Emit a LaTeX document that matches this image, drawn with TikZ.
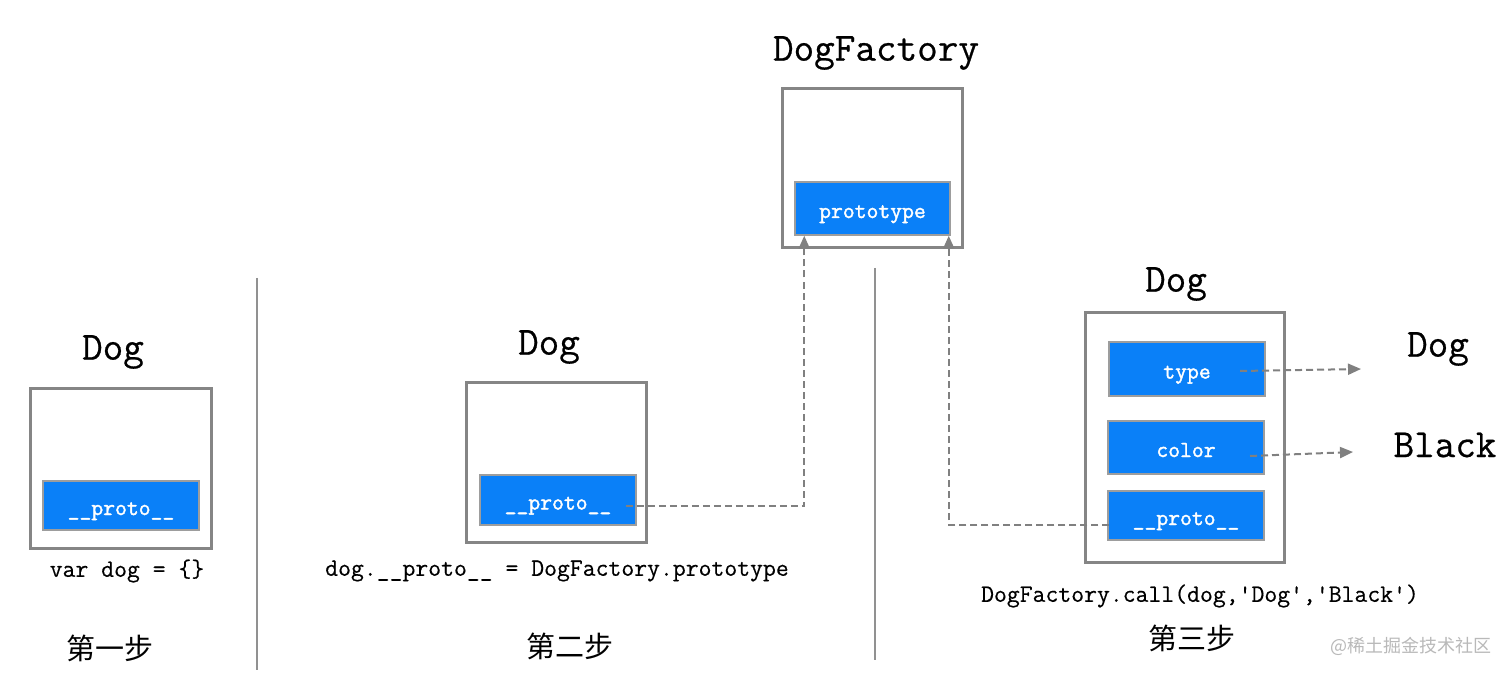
\documentclass[tikz,border=0pt]{standalone}
\usepackage{fontspec}
\usetikzlibrary{arrows.meta}
\newfontfamily\monoT[FakeBold=0.6]{Latin Modern Mono}
\newfontfamily\monoC[FakeBold=0.4]{Latin Modern Mono}
\newfontfamily\monoB[FakeBold=1.6]{Latin Modern Mono}
\newfontfamily\cjk{Noto Sans CJK SC}
\definecolor{boxgray}{HTML}{858585}
\definecolor{fieldblue}{HTML}{0A80F8}
\definecolor{arrgray}{HTML}{808080}
\tikzset{
  outerbox/.style={draw=boxgray, line width=3pt, fill=white, inner sep=0pt},
  field/.style={draw=boxgray!80, line width=1.5pt, fill=fieldblue, inner sep=0pt,
    text=white, text height=19pt, text depth=0pt,
    font=\monoB\fontsize{23}{26}\selectfont},
  title/.style={font=\monoT\fontsize{40}{46}\selectfont, inner sep=0pt},
  code/.style={font=\monoC\fontsize{25}{30}\selectfont, inner sep=0pt},
  steplabel/.style={font=\cjk\fontsize{29}{34}\selectfont, inner sep=0pt},
  ptr/.style={draw=arrgray, line width=2pt, dash pattern=on 7pt off 4pt,
    -{Triangle[length=13pt,width=11pt,fill=arrgray]}},
  divider/.style={draw=boxgray!90, line width=1.5pt}
}
\begin{document}
\begin{tikzpicture}[x=1pt,y=-1pt]
\useasboundingbox (0,0) rectangle (1512,676);
\fill[white] (0,0) rectangle (1512,676);

% dividers
\coordinate (d1a) at (257,278); \coordinate (d1b) at (257,670);
\coordinate (d2a) at (875,268); \coordinate (d2b) at (875,660);
\draw[divider] (d1a) -- (d1b);
\draw[divider] (d2a) -- (d2b);

% step 1
\node[title] (t1) at (113,352) {Dog};
\node[outerbox, minimum width=181pt, minimum height=160pt] (o1) at (120.5,468) {};
\node[field, minimum width=156pt, minimum height=49pt] (p1) at (121,505.5) {\_\_proto\_\_};
\node[code] (c1) at (127,571) {var dog = \{\}};
\node[steplabel] (s1) at (110,648) {第一步};

% DogFactory
\node[title] (tf) at (876,53) {DogFactory};
\node[outerbox, minimum width=180pt, minimum height=159pt] (of) at (872,168.5) {};
\node[field, minimum width=155pt, minimum height=53pt] (fp) at (872.5,208.5) {prototype};

% step 2
\node[title] (t2) at (549,347) {Dog};
\node[outerbox, minimum width=180pt, minimum height=160pt] (o2) at (556,462) {};
\node[field, minimum width=156pt, minimum height=50pt] (p2) at (558,500) {\_\_proto\_\_};
\node[code] (c2) at (557,571) {dog.\_\_proto\_\_ = DogFactory.prototype};
\node[steplabel] (s2) at (570,646) {第二步};

% step 3
\node[title] (t3) at (1176,284) {Dog};
\node[outerbox, minimum width=199pt, minimum height=250pt] (o3) at (1184.5,437) {};
\node[field, minimum width=156pt, minimum height=54pt] (ty) at (1187,369) {type};
\node[field, minimum width=156pt, minimum height=53pt] (co) at (1186,447.5) {color};
\node[field, minimum width=156pt, minimum height=49pt] (p3) at (1186,515.5) {\_\_proto\_\_};
\node[code] (c3) at (1200,596) {DogFactory.call(dog,'Dog','Black')};
\node[steplabel] (s3) at (1192,638) {第三步};

% values
\node[title] (vdog) at (1438,349) {Dog};
\node[title] (vblack) at (1445,445) {Black};

% watermark
\node[font=\cjk\fontsize{18}{20}\selectfont, text=gray!55, inner sep=0pt] (wm) at (1411,646) {@稀土掘金技术社区};

% connectors
\coordinate (a1s) at ([xshift=-11pt,yshift=-6pt]p2.east);
\coordinate (a1e) at ([xshift=10pt]fp.south west);
\draw[ptr] (a1s) -| (a1e);
\coordinate (a2s) at ([xshift=2pt,yshift=-9pt]p3.west);
\coordinate (a2e) at ([xshift=-2pt]fp.south east);
\draw[ptr] (a2s) -| (a2e);
\coordinate (a3s) at (1240,371); \coordinate (a3e) at (1361,369);
\draw[ptr] (a3s) -- (a3e);
\coordinate (a4s) at (1250,456); \coordinate (a4e) at (1353,452);
\draw[ptr] (a4s) -- (a4e);
\end{tikzpicture}
\end{document}
